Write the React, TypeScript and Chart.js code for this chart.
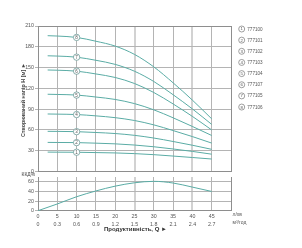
import React, { useEffect, useRef } from 'react';
import { Chart, registerables } from 'chart.js';
Chart.register(...registerables);

// ---- data ----
const flowLpm = [2.5, 5, 10, 15, 20, 25, 30, 35, 40, 45];
const head1 = [28, 27.9, 27.8, 27.3, 26.8, 25.8, 24.3, 22.3, 20.2, 18];
const head2 = [42, 41.9, 41.7, 40.9, 39.9, 38.2, 35.7, 32.5, 29, 25];
const head3 = [58, 57.9, 57.5, 56.3, 54.8, 52.2, 48.3, 43.3, 37.9, 32];
const head4 = [83, 82.8, 82.2, 80.3, 77.7, 73.6, 67.3, 59.1, 50.4, 41];
const head5 = [111.5, 111.2, 110.3, 107.5, 104, 98, 89, 77.5, 65, 52];
const head6 = [146.5, 146.2, 144.8, 140.8, 135.7, 127, 114, 97.5, 79.5, 60];
const head7 = [167, 166.6, 165, 160.5, 154.6, 144.7, 129.9, 110.8, 90.3, 68];
const head8 = [196, 195.5, 193.5, 188, 181, 169, 151, 128, 103, 76];
const heads = [head1, head2, head3, head4, head5, head6, head7, head8];
const curveNumbers = ['1', '2', '3', '4', '5', '6', '7', '8'];
const modelLabels = ['777100', '777101', '777102', '777103', '777104', '777107', '777105', '777106'];

const effFlow = [0, 5, 10, 15, 20, 25, 30, 35, 40, 45];
const efficiency = [0, 14, 29, 41, 51, 58, 61, 57.5, 49, 40];

const xTicksLpm = [0, 5, 10, 15, 20, 25, 30, 35, 40, 45];
const xTicksM3h = ['0', '0.3', '0.6', '0.9', '1.2', '1.5', '1.8', '2.1', '2.4', '2.7'];

const yTitle = 'Створюваний напір H [м] ►';
const xTitle = 'Продуктивність, Q ►';
const effTitle = 'ККД%';
const unitLpm = 'л/хв';
const unitM3h = 'м³/год';

// ---- style ----
const FONT = 'Liberation Sans, Arial, sans-serif';
const curveColor = '#5aaca5';
const gridColor = '#b4b4b4';
const gridLight = '#d2d2d2';
const frameColor = '#8e8e8e';
const textColor = '#555';

const gridX = (ctx: any) => {
  const v = ctx.tick ? ctx.tick.value : null;
  if (v === 0 || v === 50) return frameColor;
  if (v === 25 || v === 40) return gridLight;
  return gridColor;
};
const gridXW = (ctx: any) => {
  const v = ctx.tick ? ctx.tick.value : null;
  return v === 25 || v === 40 ? 2 : 1;
};

const mainPlugin = {
  id: 'mainDecor',
  afterDatasetsDraw(chart: any) {
    const ctx = chart.ctx;
    ctx.save();
    // circled numbers on curves at Q=10
    chart.data.datasets.forEach((ds: any, i: number) => {
      const meta = chart.getDatasetMeta(i);
      const pt = meta.data[2];
      ctx.beginPath();
      ctx.arc(pt.x, pt.y, 3.2, 0, Math.PI * 2);
      ctx.fillStyle = '#fff';
      ctx.fill();
      ctx.lineWidth = 0.8;
      ctx.strokeStyle = '#6f9c99';
      ctx.stroke();
      ctx.fillStyle = '#555';
      ctx.font = `4.5px ${FONT}`;
      ctx.textAlign = 'center';
      ctx.textBaseline = 'middle';
      ctx.fillText(curveNumbers[i], pt.x, pt.y + 0.3);
    });
    // legend
    modelLabels.forEach((lab, i) => {
      const cy = 29 + i * 11.15;
      const cx = 241.7;
      ctx.beginPath();
      ctx.arc(cx, cy, 3.0, 0, Math.PI * 2);
      ctx.fillStyle = '#fff';
      ctx.fill();
      ctx.lineWidth = 0.7;
      ctx.strokeStyle = '#777';
      ctx.stroke();
      ctx.fillStyle = '#555';
      ctx.font = `4.3px ${FONT}`;
      ctx.textAlign = 'center';
      ctx.textBaseline = 'middle';
      ctx.fillText(curveNumbers[i], cx, cy + 0.3);
      ctx.font = `4.6px ${FONT}`;
      ctx.textAlign = 'left';
      ctx.fillText(lab, 247.3, cy + 0.3);
    });
    // y axis title
    ctx.translate(23.7, 100);
    ctx.rotate(-Math.PI / 2);
    ctx.font = `bold 5.4px ${FONT}`;
    ctx.fillStyle = '#444';
    ctx.textAlign = 'center';
    ctx.textBaseline = 'middle';
    ctx.fillText(yTitle, 0, 0);
    ctx.restore();
  },
};

const effPlugin = {
  id: 'effDecor',
  afterDraw(chart: any) {
    const ctx = chart.ctx;
    const xs = chart.scales.x;
    ctx.save();
    ctx.fillStyle = '#444';
    ctx.font = `5px ${FONT}`;
    ctx.textAlign = 'left';
    ctx.textBaseline = 'middle';
    ctx.fillText(effTitle, 21.5, 174.5);
    const ux = xs.getPixelForValue(50) + 1.5;
    ctx.fillStyle = textColor;
    ctx.font = `5px ${FONT}`;
    ctx.fillText(unitLpm, ux, 214.3);
    ctx.fillText(unitM3h, ux, 222.7);
    ctx.font = `bold 6px ${FONT}`;
    ctx.fillStyle = '#333';
    ctx.fillText(xTitle, 104, 229.3);
    ctx.restore();
  },
};

export default function App() {
  const mainRef = useRef<HTMLCanvasElement>(null);
  const effRef = useRef<HTMLCanvasElement>(null);

  useEffect(() => {
    const tickFont = { family: FONT, size: 5.3 };
    const main = new Chart(mainRef.current!, {
      type: 'line',
      data: {
        datasets: heads.map((h) => ({
          data: flowLpm.map((q, j) => ({ x: q, y: h[j] })),
          borderColor: curveColor,
          borderWidth: 1,
          pointRadius: 0,
          fill: false,
          cubicInterpolationMode: 'monotone' as const,
        })),
      },
      options: {
        animation: false,
        responsive: false,
        maintainAspectRatio: false,
        layout: { padding: { left: 0, top: 26, right: 71, bottom: 76.5 } },
        plugins: { legend: { display: false }, tooltip: { enabled: false } },
        scales: {
          x: {
            type: 'linear',
            min: 0,
            max: 50,
            ticks: { display: false, stepSize: 5 },
            grid: { color: gridX, lineWidth: gridXW, drawTicks: false },
            border: { display: true, color: frameColor },
            afterFit(s: any) { s.height = 0; },
          },
          y: {
            type: 'linear',
            min: 0,
            max: 210,
            ticks: { stepSize: 30, font: tickFont, color: textColor, padding: 1 },
            grid: {
              color: (c: any) => (c.tick && (c.tick.value === 210 || c.tick.value === 0) ? frameColor : gridColor),
              tickLength: 3,
              tickColor: gridColor,
            },
            border: { color: frameColor },
            afterFit(s: any) { s.width = 38; },
          },
        },
      },
      plugins: [mainPlugin],
    } as any);

    const eff = new Chart(effRef.current!, {
      type: 'line',
      data: {
        datasets: [
          {
            data: effFlow.map((q, j) => ({ x: q, y: efficiency[j] })),
            borderColor: curveColor,
            borderWidth: 1,
            pointRadius: 0,
            fill: false,
            cubicInterpolationMode: 'monotone' as const,
          },
        ],
      },
      options: {
        animation: false,
        responsive: false,
        maintainAspectRatio: false,
        layout: { padding: { left: 0, top: 177, right: 71, bottom: 20.3 } },
        plugins: { legend: { display: false }, tooltip: { enabled: false } },
        scales: {
          x: {
            type: 'linear',
            min: 0,
            max: 50,
            ticks: {
              stepSize: 5,
              autoSkip: false,
              maxRotation: 0,
              padding: 1.5,
              font: { family: FONT, size: 5.3, lineHeight: '8.4px' },
              color: textColor,
              callback: (v: any) => {
                const i = xTicksLpm.indexOf(v);
                return i < 0 ? '' : [String(xTicksLpm[i]), xTicksM3h[i]];
              },
            },
            grid: { color: gridX, lineWidth: gridXW, drawTicks: false },
            border: { display: true, color: frameColor },
            afterFit(s: any) { s.height = 17; },
          },
          y: {
            type: 'linear',
            min: 0,
            max: 70,
            ticks: {
              stepSize: 10,
              font: tickFont,
              color: textColor,
              padding: 1,
              callback: (v: any) => (v % 20 === 0 ? String(v) : ''),
            },
            grid: {
              color: (c: any) => (c.tick && (c.tick.value === 70 || c.tick.value === 0) ? frameColor : gridColor),
              tickLength: 3,
              tickColor: (c: any) => (c.tick && c.tick.value % 20 === 0 ? gridColor : 'rgba(0,0,0,0)'),
            },
            border: { color: frameColor },
            afterFit(s: any) { s.width = 38; },
          },
        },
      },
      plugins: [effPlugin],
    } as any);

    return () => {
      main.destroy();
      eff.destroy();
    };
  }, []);

  const cs: React.CSSProperties = { position: 'absolute', left: 0, top: 0, width: 302, height: 248 };
  return (
    <div style={{ position: 'absolute', left: 0, top: 0, width: 302, height: 248, background: '#fff' }}>
      <canvas ref={mainRef} width={302} height={248} style={cs} />
      <canvas ref={effRef} width={302} height={248} style={cs} />
    </div>
  );
}
